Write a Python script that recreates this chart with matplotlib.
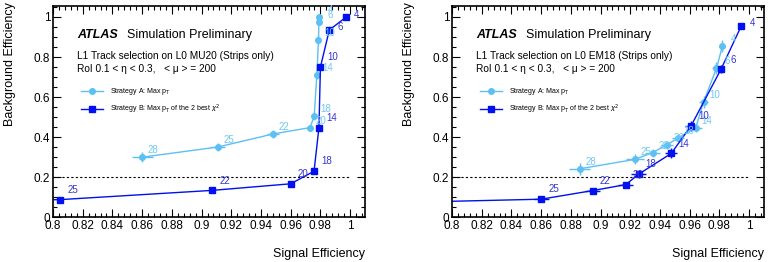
import matplotlib
matplotlib.use("Agg")
import matplotlib.pyplot as plt
from matplotlib.ticker import MultipleLocator, FormatStrFormatter
from matplotlib.lines import Line2D

plt.rcParams['font.family'] = ['Liberation Sans', 'DejaVu Sans']

# ---- data: left panel (L0 MU20) ----
mu_a_lbl = [28, 25, 22, 20, 18, 14, 10, 6, 4]
mu_a_sig = [0.860, 0.911, 0.948, 0.973, 0.9758, 0.9776, 0.9787, 0.979, 0.979]
mu_a_bkg = [0.299, 0.350, 0.415, 0.447, 0.505, 0.710, 0.885, 0.975, 0.998]
mu_a_sig_err = [0.007, 0.005, 0.004, 0.002, 0.002, 0.002, 0.001, 0.001, 0.001]
mu_a_bkg_err = [0.025, 0.020, 0.020, 0.015, 0.020, 0.020, 0.020, 0.015, 0.010]

mu_b_lbl = [28, 25, 22, 20, 18, 14, 10, 6, 4]
mu_b_sig = [0.780, 0.805, 0.907, 0.960, 0.9757, 0.979, 0.980, 0.986, 0.997]
mu_b_bkg = [0.083, 0.087, 0.133, 0.166, 0.229, 0.447, 0.750, 0.935, 0.998]
mu_b_sig_err = [0.001, 0.001, 0.001, 0.001, 0.002, 0.001, 0.001, 0.001, 0.001]
mu_b_bkg_err = [0.005, 0.005, 0.005, 0.005, 0.010, 0.010, 0.010, 0.005, 0.003]

# ---- data: right panel (L0 EM18) ----
em_a_lbl = [28, 25, 22, 20, 18, 14, 10, 6, 4]
em_a_sig = [0.886, 0.923, 0.935, 0.945, 0.952, 0.964, 0.9694, 0.978, 0.982]
em_a_bkg = [0.241, 0.288, 0.322, 0.362, 0.395, 0.445, 0.577, 0.743, 0.855]
em_a_sig_err = [0.007, 0.006, 0.005, 0.004, 0.004, 0.004, 0.003, 0.003, 0.002]
em_a_bkg_err = [0.030, 0.025, 0.020, 0.020, 0.020, 0.020, 0.030, 0.030, 0.030]

em_b_lbl = [28, 25, 22, 20, 18, 14, 10, 6, 4]
em_b_sig = [0.750, 0.860, 0.8946, 0.917, 0.9256, 0.9476, 0.961, 0.981, 0.9947]
em_b_bkg = [0.070, 0.089, 0.132, 0.162, 0.214, 0.318, 0.457, 0.738, 0.955]
em_b_sig_err = [0.005, 0.005, 0.005, 0.005, 0.005, 0.004, 0.004, 0.002, 0.001]
em_b_bkg_err = [0.005, 0.010, 0.015, 0.015, 0.020, 0.025, 0.025, 0.020, 0.005]

threshold = 0.2
light = '#5cc0f2'
dark = '#0010ee'
light_txt = '#70c8f5'
dark_txt = '#3535d0'

panels = [
    ("L1 Track selection on L0 MU20 (Strips only)",
     (mu_a_sig, mu_a_bkg, mu_a_sig_err, mu_a_bkg_err, mu_a_lbl),
     (mu_b_sig, mu_b_bkg, mu_b_sig_err, mu_b_bkg_err, mu_b_lbl)),
    ("L1 Track selection on L0 EM18 (Strips only)",
     (em_a_sig, em_a_bkg, em_a_sig_err, em_a_bkg_err, em_a_lbl),
     (em_b_sig, em_b_bkg, em_b_sig_err, em_b_bkg_err, em_b_lbl)),
]

fig = plt.figure(figsize=(7.68, 2.62), dpi=100)
lefts = [53 / 768, 452 / 768]
ylab_x = [10 / 768, 409 / 768]

for i, (title, sa, sb) in enumerate(panels):
    ax = fig.add_axes([lefts[i], 45 / 262, 312 / 768, 211 / 262])
    ax.set_xlim(0.8, 1.01)
    ax.set_ylim(0, 1.055)

    ax.plot([0.8, 1.0], [threshold, threshold], color='black', lw=0.8,
            ls=(0, (2, 2)))

    x, y, xe, ye, lb = sa
    ax.errorbar(x, y, xerr=xe, yerr=ye, fmt='-o', color=light, ms=4,
                lw=1.0, elinewidth=1.0, capsize=0, clip_on=True)
    for xi, yi, t in zip(x, y, lb):
        if 0.8 <= xi <= 1.01:
            ax.annotate(str(t), (xi, yi), xytext=(8, 5), textcoords='offset points',
                        ha='center', va='center', fontsize=7, color=light_txt)

    x, y, xe, ye, lb = sb
    ax.errorbar(x, y, xerr=xe, yerr=ye, fmt='-s', color=dark, ms=4.3,
                lw=1.0, elinewidth=1.0, capsize=0, clip_on=True)
    for xi, yi, t in zip(x, y, lb):
        if 0.8 <= xi <= 1.01:
            off = (8, 2) if yi > 0.9 else (9, 7)
            ax.annotate(str(t), (xi, yi), xytext=off, textcoords='offset points',
                        ha='center', va='center', fontsize=7, color=dark_txt)

    ax.xaxis.set_major_locator(MultipleLocator(0.02))
    ax.xaxis.set_minor_locator(MultipleLocator(0.004))
    ax.yaxis.set_major_locator(MultipleLocator(0.2))
    ax.yaxis.set_minor_locator(MultipleLocator(0.05))
    ax.xaxis.set_major_formatter(FormatStrFormatter('%g'))
    ax.yaxis.set_major_formatter(FormatStrFormatter('%g'))
    ax.tick_params(which='both', direction='in', top=True, right=True,
                   labelsize=8.5, width=0.8)
    ax.tick_params(which='major', length=6, pad=2)
    ax.tick_params(which='minor', length=3)
    for s in ax.spines.values():
        s.set_linewidth(1.2)

    ax.text(0.077, 0.848, "ATLAS", transform=ax.transAxes, fontsize=9,
            fontweight='bold', style='italic')
    ax.text(0.237, 0.848, "Simulation Preliminary", transform=ax.transAxes,
            fontsize=9)
    ax.text(0.077, 0.749, title, transform=ax.transAxes, fontsize=7.3)
    ax.text(0.077, 0.687, "RoI 0.1 < η < 0.3,   < μ > = 200",
            transform=ax.transAxes, fontsize=7.3)

    handles = [
        Line2D([], [], color=light, marker='o', ms=4, lw=1.0),
        Line2D([], [], color=dark, marker='s', ms=4.3, lw=1.0),
    ]
    ax.legend(handles, ["Strategy A: Max p$_{\\mathrm{T}}$",
                        "Strategy B: Max p$_{\\mathrm{T}}$ of the 2 best $\\chi^{2}$"],
              loc='upper left', bbox_to_anchor=(0.07, 0.65), frameon=False,
              fontsize=5, handlelength=3.2, handletextpad=0.9, labelspacing=0.85)

    ax.set_xlabel("Signal Efficiency", fontsize=9, ha='right', x=1.0, labelpad=12)
    fig.text(ylab_x[i], 1 - 2 / 262, "Background Efficiency", rotation=90,
             ha='center', va='top', fontsize=9)

fig.savefig("out.png", dpi=100)
